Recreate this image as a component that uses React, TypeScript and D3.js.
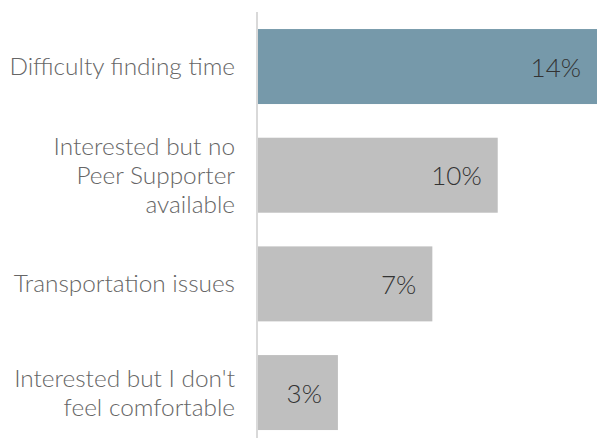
import React from "react";
import * as d3 from "d3";

const categories: string[][] = [
  ["Difficulty finding time"],
  ["Interested but no", "Peer Supporter", "available"],
  ["Transportation issues"],
  ["Interested but I don't", "feel comfortable"],
];
const values: number[] = [14, 9.9, 7.2, 3.3];
const valueLabels: string[] = ["14%", "10%", "7%", "3%"];
const colors: string[] = ["#7699aa", "#bfbfbf", "#bfbfbf", "#bfbfbf"];

const W = 597;
const H = 438;
const axisX = 258;
const bottom = 438;

export default function App() {
  const x = d3.scaleLinear().domain([0, 14]).range([axisX, 597]);
  const y = d3
    .scaleBand<number>()
    .domain(d3.range(categories.length))
    .range([12.2, 446.9])
    .paddingInner(0.31)
    .paddingOuter(0.155);
  const lineH = 29;
  return (
    <svg
      width={W}
      height={H}
      style={{ position: "absolute", left: 0, top: 0, fontFamily: "Lato", fontWeight: 300 }}
    >
      {values.map((v, i) => {
        const y0 = y(i)!;
        const bw = y.bandwidth();
        const cy = y0 + bw / 2;
        const lines = categories[i];
        return (
          <g key={i}>
            <rect x={axisX} y={y0} width={x(v) - axisX} height={bw} fill={colors[i]} />
            <text
              x={x(v) - 16}
              y={cy + 1}
              dy="0.35em"
              textAnchor="end"
              fontSize={26}
              fill="#333333"
            >
              {valueLabels[i]}
            </text>
            <text x={235} textAnchor="end" fontSize={24.4} fill="#666666">
              {lines.map((l, j) => (
                <tspan key={j} x={235} y={cy + (j - (lines.length - 1) / 2) * lineH} dy="0.35em">
                  {l}
                </tspan>
              ))}
            </text>
          </g>
        );
      })}
      <line x1={axisX - 1} x2={axisX - 1} y1={12} y2={bottom} stroke="#d9d9d9" strokeWidth={2} />
    </svg>
  );
}
